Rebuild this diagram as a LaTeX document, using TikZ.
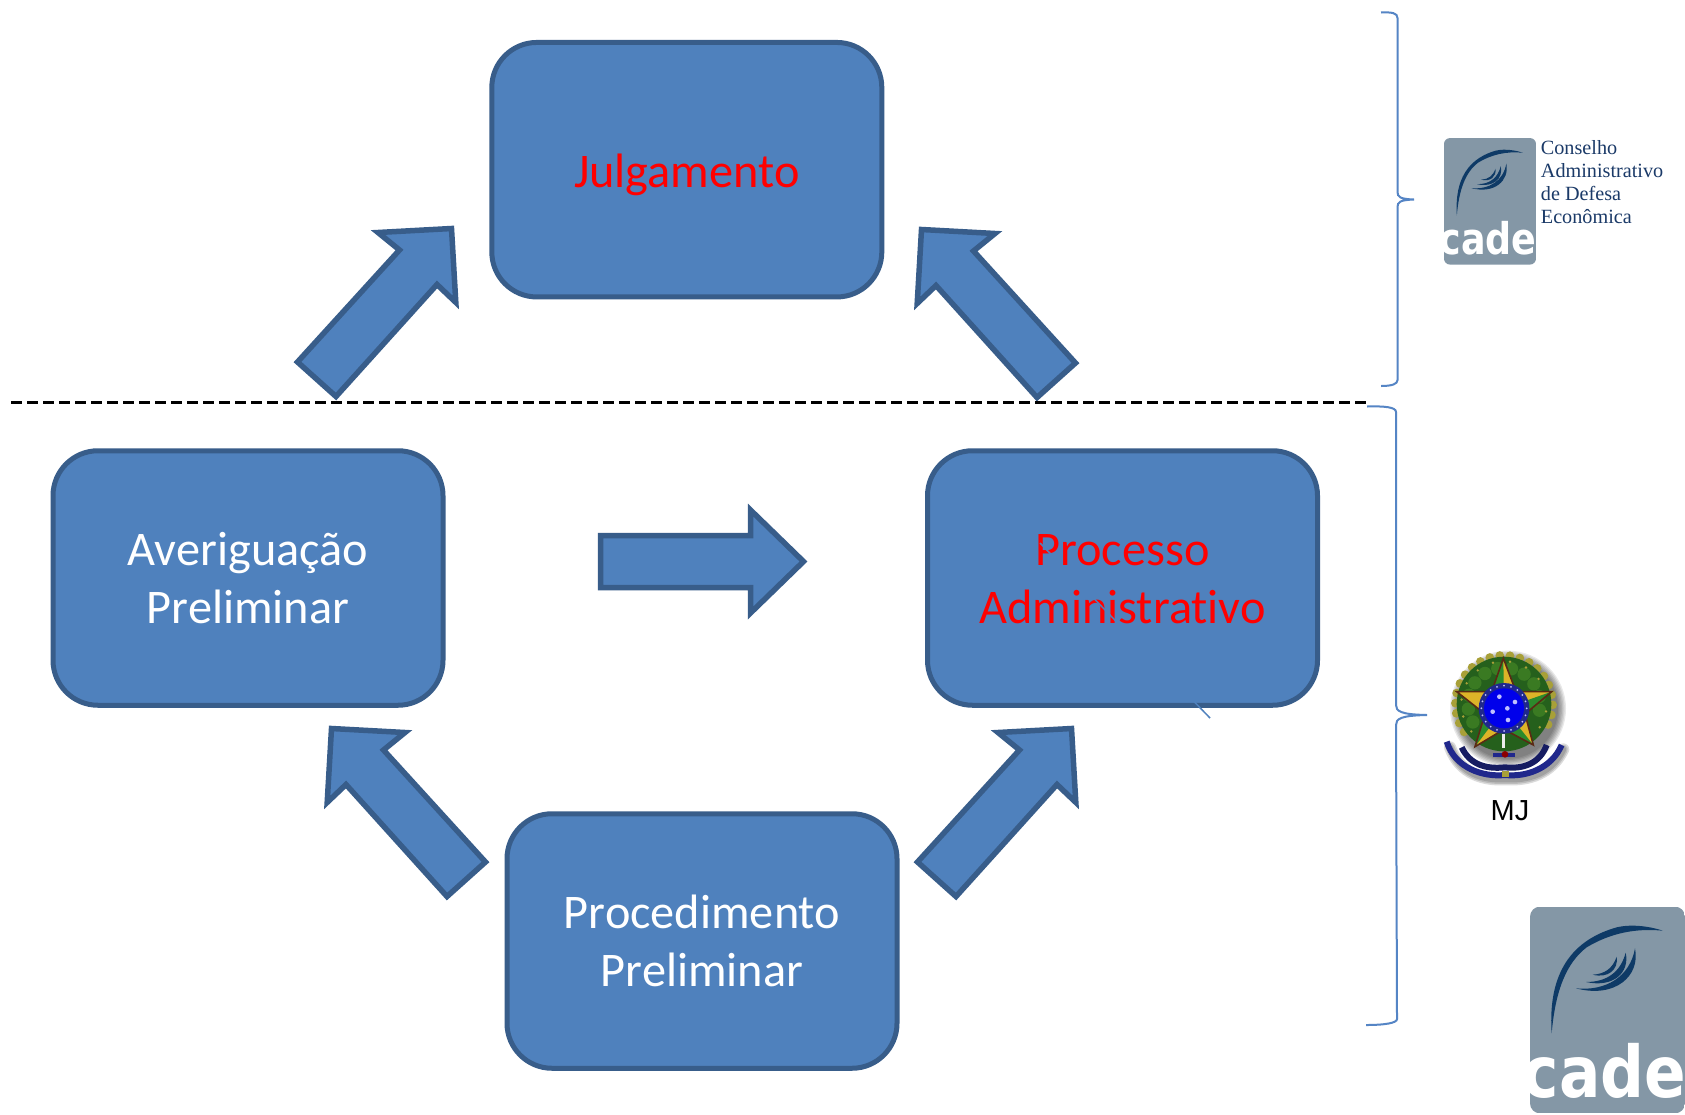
\documentclass[tikz,border=0pt]{standalone}
\usepackage{fontspec}
\setmainfont[Ligatures=CommonOff]{Carlito}
\newfontfamily\serifpart{Liberation Serif}
\newfontfamily\arialpart{Liberation Sans}
\newfontfamily\cadepart{DejaVu Sans}
\definecolor{boxfill}{HTML}{4F81BD}
\definecolor{boxline}{HTML}{385D8A}
\definecolor{bracecol}{HTML}{5585C5}
\definecolor{logogray}{HTML}{8497A6}
\definecolor{logonavy}{HTML}{0E3A66}
\definecolor{logotext}{HTML}{1B3A68}
\definecolor{wreathdark}{HTML}{25601C}
\definecolor{wreathmid}{HTML}{3A7A22}
\definecolor{wreathedge}{HTML}{A8A038}
\definecolor{stargold}{HTML}{DDB428}
\definecolor{stargreen}{HTML}{2C8A2C}
\definecolor{starline}{HTML}{5A2A14}
\definecolor{ribbon}{HTML}{20288C}
\newcommand{\lblstrut}{\rule[-3pt]{0pt}{46pt}}
\newcommand{\lblstruttwo}{\rule[-6pt]{0pt}{44pt}}
\tikzset{
  stagebox/.style={draw=boxline,fill=boxfill,line width=5pt,rounded corners=45pt,
    minimum width=390pt,minimum height=254.5pt,inner sep=0pt,align=center,text=white,
    font=\fontsize{48.3}{58}\selectfont},
  flowarrow/.style={draw=boxline,fill=boxfill,line width=5.5pt,miter limit=12},
  bracket/.style={draw=bracecol,line width=2pt},
  divider/.style={draw=black,line width=3pt,dash pattern=on 11pt off 5pt},
}
\newcommand{\diagarrow}{\draw[flowarrow] (336,396.5) -- (297.5,362) -- (399.5,250) -- (378,232.5)
  -- (451.5,228.5) -- (455.8,302.4) -- (437,284.5) -- cycle;}
\newcommand{\cadelogo}[6]{%
  \begin{scope}[shift={(#1,#2)},xscale=#3,yscale=#4]
    \begin{scope}
      \path[clip,rounded corners=#5] (30,20) rectangle (495,640);
      \fill[logogray] (30,20) rectangle (495,640);
      \fill[logonavy] (95,400) .. controls (86,265) and (120,130) .. (290,82)
        .. controls (340,70) and (400,82) .. (428,92)
        .. controls (345,84) and (270,100) .. (200,142)
        .. controls (140,188) and (106,270) .. (95,400) -- cycle;
      \fill[logonavy] (345,145) .. controls (362,228) and (285,296) .. (168,265)
        .. controls (258,274) and (330,230) .. (345,145) -- cycle;
      \fill[logonavy] (317,158) .. controls (330,218) and (280,264) .. (198,246)
        .. controls (262,246) and (302,215) .. (317,158) -- cycle;
      \fill[logonavy] (290,170) .. controls (296,208) and (265,236) .. (218,224)
        .. controls (255,222) and (278,205) .. (290,170) -- cycle;
      \node[transform shape,anchor=base west,inner sep=0pt,text=white,xscale=.86,
        font=\cadepart\bfseries\fontsize{214}{214}\selectfont] (#6) at (8,592) {cade};
    \end{scope}
  \end{scope}}
\begin{document}
\begin{tikzpicture}[x=1pt,y=-1pt]
\useasboundingbox (0,0) rectangle (1685,1114);
\fill[white] (0,0) rectangle (1685,1114);

% stage boxes
\node[stagebox,text=red] (julg) at (686.8,169.7) {\lblstrut Julgamento};
\node[stagebox] (aver) at (248,578) {\lblstruttwo Averiguação\\\lblstruttwo Preliminar};
\node[stagebox,text=red] (proc) at (1122.5,578) {\lblstruttwo Processo\\\lblstruttwo Administrativo};
\node[stagebox] (prel) at (702,941) {\lblstruttwo Procedimento\\\lblstruttwo Preliminar};

% thin line lying over the Processo box
\coordinate (ln1) at (1040,543);
\coordinate (ln2) at (1210,718);
\draw[draw=boxfill,line width=1.5pt] (ln1) -- (ln2);

% arrows
\diagarrow
\begin{scope}[shift={(1373,1)},xscale=-1]\diagarrow\end{scope}
\begin{scope}[shift={(783,500)},xscale=-1]\diagarrow\end{scope}
\begin{scope}[shift={(620,500)}]\diagarrow\end{scope}
\draw[flowarrow] (600.5,535.5) -- (750.5,535.5) -- (750.5,510) -- (803.5,561.5)
  -- (750.5,613) -- (750.5,587.5) -- (600.5,587.5) -- cycle;

% divider
\coordinate (dl) at (11,402.5);
\coordinate (dr) at (1368,402.5);
\draw[divider] (dl) -- (dr);

% braces
\draw[bracket] (1381,12.5) .. controls (1392,12) and (1397.5,13) .. (1397.5,18) -- (1397.5,192)
  .. controls (1397.5,197) and (1400,199) .. (1414,199.5)
  .. controls (1400,200) and (1397.5,202) .. (1397.5,207) -- (1397.5,380)
  .. controls (1397.5,384) and (1392,386) .. (1381,386);
\draw[bracket] (1367,406.5) .. controls (1384,406) and (1396,407) .. (1396,412) -- (1396,705)
  .. controls (1396,711) and (1400,714.5) .. (1427,715)
  .. controls (1400,715.5) and (1396,719) .. (1396,725) -- (1397,1019)
  .. controls (1397,1023) and (1385,1025) .. (1366,1025);

% CADE logos
\cadelogo{1438}{134}{0.198}{0.204}{6pt}{cadesmall}
\cadelogo{1520}{900}{0.3333}{0.3333}{10pt}{cadelarge}
\node[anchor=north west,inner sep=0pt,align=left,text=logotext,
  font=\serifpart\fontsize{20.2}{22.9}\selectfont] (cadename) at (1540.7,140.3)
  {Conselho\\Administrativo\\de Defesa\\Econômica};

% coat of arms
\begin{scope}[shift={(1430,640)},scale=0.3333]
  % soft shadow
  \foreach \r in {174,170,...,150}
    \fill[black,opacity=.09] (234,206) circle (\r);
  \foreach \w in {12,9,6}
    \draw[black,opacity=.14,line width=\w pt,line cap=round] (60,322) .. controls (90,402) and (160,422) .. (228,418)
      .. controls (295,422) and (365,402) .. (400,328);
  % wreath
  \foreach \a in {145,157,...,395}
    \fill[wreathedge] ({222+146*cos(\a)},{192+146*sin(\a)}) circle (13);
  \fill[wreathdark] (222,192) circle (142);
  \foreach \a in {150,172,...,390}
    \fill[wreathmid] ({222+108*cos(\a)},{192+108*sin(\a)}) circle (20);
  \foreach \a in {140,163,...,400}
    \fill[wreathedge] ({222+128*cos(\a)},{192+128*sin(\a)}) circle (4);
  % star
  \fill[stargold] (220,55) -- (258,155) -- (365,155) -- (285,222) -- (310,315)
    -- (222,268) -- (135,320) -- (165,222) -- (80,155) -- (185,155) -- cycle;
  \fill[stargreen] (220,55) -- (185,155) -- (222,205) -- cycle;
  \fill[stargreen] (365,155) -- (285,222) -- (222,205) -- cycle;
  \fill[stargreen] (310,315) -- (222,268) -- (222,205) -- cycle;
  \fill[stargreen] (135,320) -- (165,222) -- (222,205) -- cycle;
  \draw[draw=starline,line width=1.6pt,line join=miter] (220,55) -- (258,155) -- (365,155) -- (285,222) -- (310,315)
    -- (222,268) -- (135,320) -- (165,222) -- (80,155) -- (185,155) -- cycle;
  % disc
  \fill[ribbon] (222,205) circle (76);
  \fill[blue!92!black] (222,205) circle (60);
  \foreach \a in {0,18,...,342}
    \fill[white!75!blue] ({222+68*cos(\a)},{205+68*sin(\a)}) circle (3);
  \foreach \p/\q in {208/170,255/186,232/205,188/215,234/240}
    \fill[white!75!blue] (\p,\q) circle (7);
  % sword and base
  \fill[white!85!gray] (216,282) rectangle (226,325);
  \fill[ribbon] (190,338) rectangle (256,350);
  \fill[red!55!black] (225,343) circle (10);
  % ribbon
  \draw[ribbon,line width=6pt] (50,305) .. controls (75,385) and (160,412) .. (225,405)
    .. controls (290,412) and (365,385) .. (395,315);
  \draw[ribbon!70!black,line width=6pt] (95,322) .. controls (120,375) and (170,388) .. (225,382)
    .. controls (280,388) and (330,370) .. (350,315);
  \fill[wreathedge] (215,392) rectangle (236,412);
\end{scope}
\node[anchor=base,inner sep=0pt,font=\arialpart\fontsize{29}{29}\selectfont] (mj) at (1510,820) {MJ};
\end{tikzpicture}
\end{document}
